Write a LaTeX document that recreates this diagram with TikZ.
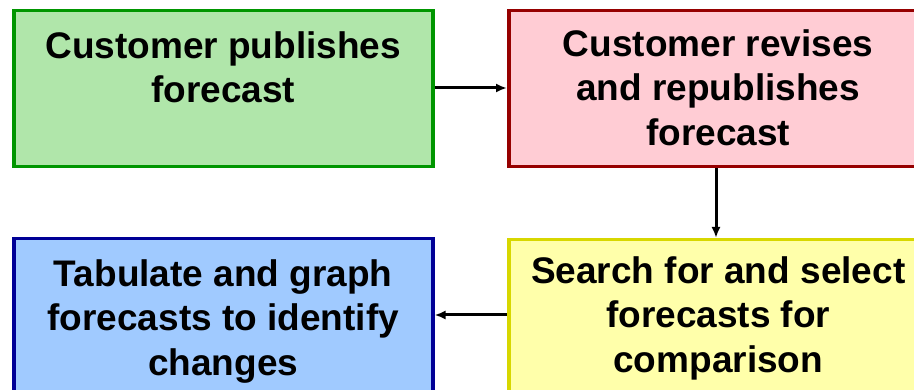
\documentclass[tikz,border=0pt]{standalone}
\usepackage{fontspec}
\setmainfont{Liberation Sans}
\usetikzlibrary{arrows.meta,calc}
\definecolor{gfill}{RGB}{176,230,170}
\definecolor{gdraw}{RGB}{0,150,0}
\definecolor{rfill}{RGB}{255,204,212}
\definecolor{rdraw}{RGB}{150,0,0}
\definecolor{bfill}{RGB}{160,202,255}
\definecolor{bdraw}{RGB}{0,0,150}
\definecolor{yfill}{RGB}{255,255,170}
\definecolor{ydraw}{RGB}{215,215,0}
\tikzset{
  box/.style={draw, line width=3.5pt, minimum width=419pt, minimum height=156pt, inner sep=0pt, anchor=north west},
  txt/.style={align=center, inner sep=0pt, anchor=north, font=\fontsize{37}{44.5}\selectfont\bfseries},
  conn/.style={line width=3pt, -{Latex[length=11pt,width=9pt]}}
}
\begin{document}
\begin{tikzpicture}[x=1pt,y=-1pt]
\useasboundingbox (0,0) rectangle (914,390);
\clip (0,0) rectangle (914,390);
\node[box, fill=gfill, draw=gdraw] (g) at (12,9) {};
\node[box, fill=rfill, draw=rdraw] (r) at (507,9) {};
\node[box, fill=bfill, draw=bdraw] (b) at (12,237) {};
\node[box, fill=yfill, draw=ydraw] (y) at (507,238) {};
\node[txt] (gt) at ($(g.north)+(0,22)$) {Customer publishes\\forecast};
\node[txt] (rt) at ($(r.north)+(0,20)$) {Customer revises\\and republishes\\forecast};
\node[txt] (bt) at ($(b.north)+(0,22)$) {Tabulate and graph\\forecasts to identify\\changes};
\node[txt] (yt) at ($(y.north)+(0,18)$) {Search for and select\\forecasts for\\comparison};
\draw[conn] (g.east |- 0,88) -- (r.west |- 0,88);
\draw[conn] (r.south -| 716,0) -- (y.north -| 716,0);
\draw[conn] (y.west |- 0,315) -- (b.east |- 0,315);
\end{tikzpicture}
\end{document}
